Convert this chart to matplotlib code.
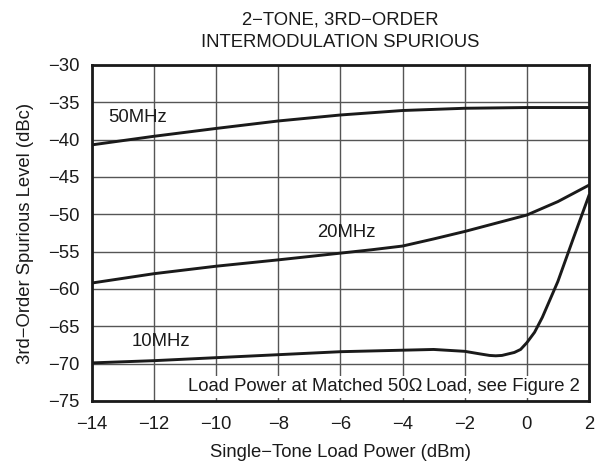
import matplotlib
matplotlib.use("Agg")
import matplotlib.pyplot as plt
import numpy as np

plt.rcParams['font.family'] = ['Liberation Sans', 'DejaVu Sans']

# Data
x_50 = [-14, -12, -10, -8, -6, -4, -2, 0, 2]
y_50 = [-40.7, -39.55, -38.5, -37.5, -36.7, -36.1, -35.8, -35.7, -35.7]

x_20 = [-14, -12, -10, -8, -6, -5, -4, -3, -2, -1, 0, 1, 2]
y_20 = [-59.2, -57.95, -56.95, -56.1, -55.2, -54.75, -54.25, -53.3, -52.3, -51.2, -50.1, -48.3, -46.1]

x_10 = [-14, -12, -10, -8, -6, -4, -3, -2, -1.5, -1.2, -1, -0.8, -0.4, -0.2, 0, 0.25, 0.5, 1, 1.5, 2]
y_10 = [-69.9, -69.6, -69.2, -68.8, -68.4, -68.2, -68.1, -68.35, -68.7, -68.9, -68.95, -68.9, -68.5, -68.1, -67.2, -65.8, -63.8, -59.0, -53.2, -47.5]

xticks = [-14, -12, -10, -8, -6, -4, -2, 0, 2]
yticks = [-30, -35, -40, -45, -50, -55, -60, -65, -70, -75]

FS = 13.3
C = '#1a1a1a'

fig = plt.figure(figsize=(6.06, 4.68), dpi=100)
ax = fig.add_axes([0.1518, 0.1432, 0.820, 0.718])

lw = 2.1
ax.plot(x_50, y_50, color=C, lw=lw, zorder=3)
ax.plot(x_20, y_20, color=C, lw=lw, zorder=3)
ax.plot(x_10, y_10, color=C, lw=lw, zorder=3)

ax.set_xlim(-14, 2)
ax.set_ylim(-75, -30)
ax.set_xticks(xticks)
ax.set_yticks(yticks)
ax.set_xticklabels([str(t).replace('-', '\u2212') for t in xticks])
ax.set_yticklabels([str(t).replace('-', '\u2212') for t in yticks])
ax.tick_params(axis='both', length=0, labelsize=FS, colors=C)
ax.tick_params(axis='x', pad=11)
ax.tick_params(axis='y', pad=9)
ax.grid(True, color='#555555', lw=1.0)
for s in ax.spines.values():
    s.set_linewidth(2.0)
    s.set_color(C)

ax.set_xlabel('Single\u2212Tone Load Power (dBm)', fontsize=FS, color=C, labelpad=8)
ax.set_ylabel('3rd\u2212Order Spurious Level (dBc)', fontsize=FS, color=C, labelpad=10)
ax.set_title('2\u2212TONE, 3RD\u2212ORDER\nINTERMODULATION SPURIOUS', fontsize=FS,
             color=C, pad=13, linespacing=1.45)

ax.text(-13.48, -37.1, '50MHz', fontsize=FS, va='center', ha='left', color=C)
ax.text(-6.74, -52.5, '20MHz', fontsize=FS, va='center', ha='left', color=C)
ax.text(-12.72, -67.05, '10MHz', fontsize=FS, va='center', ha='left', color=C)
ax.text(1.7, -73.1, 'Load Power at Matched 50\u03a9\u2009Load, see Figure 2', fontsize=FS,
        va='center', ha='right', color=C, zorder=4,
        bbox=dict(facecolor='white', edgecolor='none', pad=2))

fig.savefig('out.png', dpi=100)
